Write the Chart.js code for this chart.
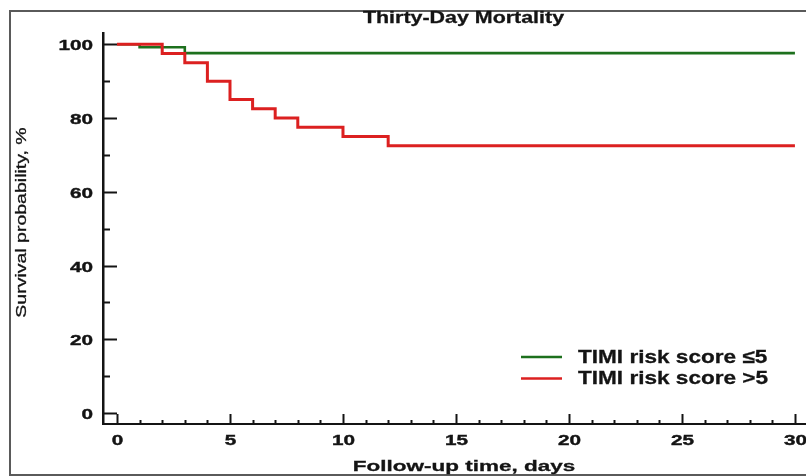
<!DOCTYPE html>
<html>
<head>
<meta charset="utf-8">
<script src="https://cdn.jsdelivr.net/npm/chart.js@4.4.1/dist/chart.umd.min.js"></script>
<style>
  html, body { margin:0; padding:0; background:#fff; overflow:hidden; }
  #wrap { position:relative; width:806px; height:476px; overflow:hidden; }
  #frame { position:absolute; left:9px; top:10px; width:900px; height:462px; border:2px solid #5a5a5a; }
  #km { position:absolute; left:0; top:0; }
</style>
</head>
<body>
<div id="wrap">
  <div id="frame"></div>
  <canvas id="km" width="806" height="476"></canvas>
</div>
<script>
// ---------- DATA ----------
const chartTitle = "Thirty-Day Mortality";
const xTitle = "Follow-up time, days";
const yTitle = "Survival probability, %";
const seriesLabels = ["TIMI risk score ≤5", "TIMI risk score >5"];

// TIMI <=5 (green)
const lowDays = [0, 1, 3, 30];
const lowSurv = [100, 99.2, 97.6, 97.6];
// TIMI >5 (red)
const highDays = [0, 2, 3, 4, 5, 6, 7, 8, 10, 12, 30];
const highSurv = [100, 97.5, 95, 90, 85, 82.5, 80, 77.5, 75, 72.5, 72.5];

const xTickLabels = [0, 5, 10, 15, 20, 25, 30];
const yTickLabels = [0, 20, 40, 60, 80, 100];

// ---------- UTIL ----------
const FONT = '"Liberation Sans", Arial, sans-serif';
const INK = "#141414";
const toPts = (xs, ys) => xs.map((x, i) => ({ x, y: ys[i] }));

// text with a horizontal stretch, like the source picture
function drawText(ctx, s, x, y, font, sx, align, rot, heavy){
  ctx.save();
  ctx.translate(x, y);
  if (rot) ctx.rotate(rot);
  ctx.scale(sx, 1);
  ctx.font = font;
  ctx.textAlign = align;
  ctx.textBaseline = "alphabetic";
  ctx.fillStyle = INK;
  ctx.fillText(s, 0, 0);
  if (heavy){
    ctx.strokeStyle = INK;
    ctx.lineWidth = heavy;
    ctx.strokeText(s, 0, 0);
  }
  ctx.restore();
}

// ticks pointing inward, labels, titles, legend
const decorPlugin = {
  id: "decor",
  afterDraw(chart){
    const { ctx, chartArea: a, scales: { x, y } } = chart;
    ctx.save();
    ctx.strokeStyle = INK;
    ctx.lineWidth = 2;
    ctx.lineCap = "butt";

    // y ticks
    for (const t of y.ticks){
      const py = Math.round(y.getPixelForValue(t.value)) + 0.5;
      const major = yTickLabels.includes(t.value);
      ctx.beginPath();
      ctx.moveTo(a.left, py);
      ctx.lineTo(a.left + (major ? 14 : 7), py);
      ctx.stroke();
      if (major) drawText(ctx, String(t.value), a.left - 10, py + 5.5, `bold 15px ${FONT}`, 1.38, "right", 0, 0.4);
    }
    // x ticks
    for (const t of x.ticks){
      const px = Math.round(x.getPixelForValue(t.value)) + 0.5;
      const major = xTickLabels.includes(t.value);
      ctx.beginPath();
      ctx.moveTo(px, a.bottom);
      ctx.lineTo(px, a.bottom - (major ? 10 : 4));
      ctx.stroke();
      if (major) drawText(ctx, String(t.value), px, a.bottom + 21, `bold 15px ${FONT}`, 1.38, "center", 0, 0.4);
    }

    // titles
    drawText(ctx, chartTitle, 463.5, 23, `bold 17px ${FONT}`, 1.26, "center", 0, 0.3);
    drawText(ctx, xTitle, 464, 470.5, `bold 15.5px ${FONT}`, 1.45, "center", 0, 0.3);
    drawText(ctx, yTitle, 26, 222.5, `15px ${FONT}`, 1.3, "center", -Math.PI / 2, 0.3);

    // legend
    chart.data.datasets.forEach((ds, i) => {
      const ly = 357 + i * 21.5;
      ctx.strokeStyle = ds.borderColor;
      ctx.lineWidth = 2.5;
      ctx.beginPath();
      ctx.moveTo(521, ly);
      ctx.lineTo(562, ly);
      ctx.stroke();
      drawText(ctx, ds.label, 578, ly + 5.6, `bold 18.5px ${FONT}`, 1.22, "left", 0, 0.3);
    });
    ctx.restore();
  }
};

// ---------- CHART ----------
new Chart(document.getElementById("km"), {
  type: "line",
  data: {
    datasets: [
      {
        label: seriesLabels[0],
        data: toPts(lowDays, lowSurv),
        borderColor: "#1d701d",
        borderWidth: 2.6,
        stepped: true,
        pointRadius: 0,
        borderJoinStyle: "miter",
        order: 1
      },
      {
        label: seriesLabels[1],
        data: toPts(highDays, highSurv),
        borderColor: "#dc2020",
        borderWidth: 3,
        stepped: true,
        pointRadius: 0,
        borderJoinStyle: "miter",
        order: 0
      }
    ]
  },
  options: {
    responsive: false,
    animation: false,
    layout: { padding: { left: 103, top: 33, right: 0, bottom: 52 } },
    plugins: { legend: { display: false }, title: { display: false }, tooltip: { enabled: false } },
    scales: {
      x: {
        type: "linear",
        min: -0.62, max: 30.49,
        ticks: { display: false },
        grid: { display: false, drawTicks: false },
        border: { display: true, color: INK, width: 2 },
        afterBuildTicks: s => { s.ticks = Array.from({ length: 31 }, (_, i) => ({ value: i })); },
        afterFit: s => { s.height = 0; }
      },
      y: {
        type: "linear",
        min: -2.98, max: 103.06,
        ticks: { display: false },
        grid: { display: false, drawTicks: false },
        border: { display: true, color: INK, width: 2.5 },
        afterBuildTicks: s => { s.ticks = Array.from({ length: 11 }, (_, i) => ({ value: i * 10 })); },
        afterFit: s => { s.width = 0; }
      }
    }
  },
  plugins: [decorPlugin]
});
</script>
</body>
</html>
